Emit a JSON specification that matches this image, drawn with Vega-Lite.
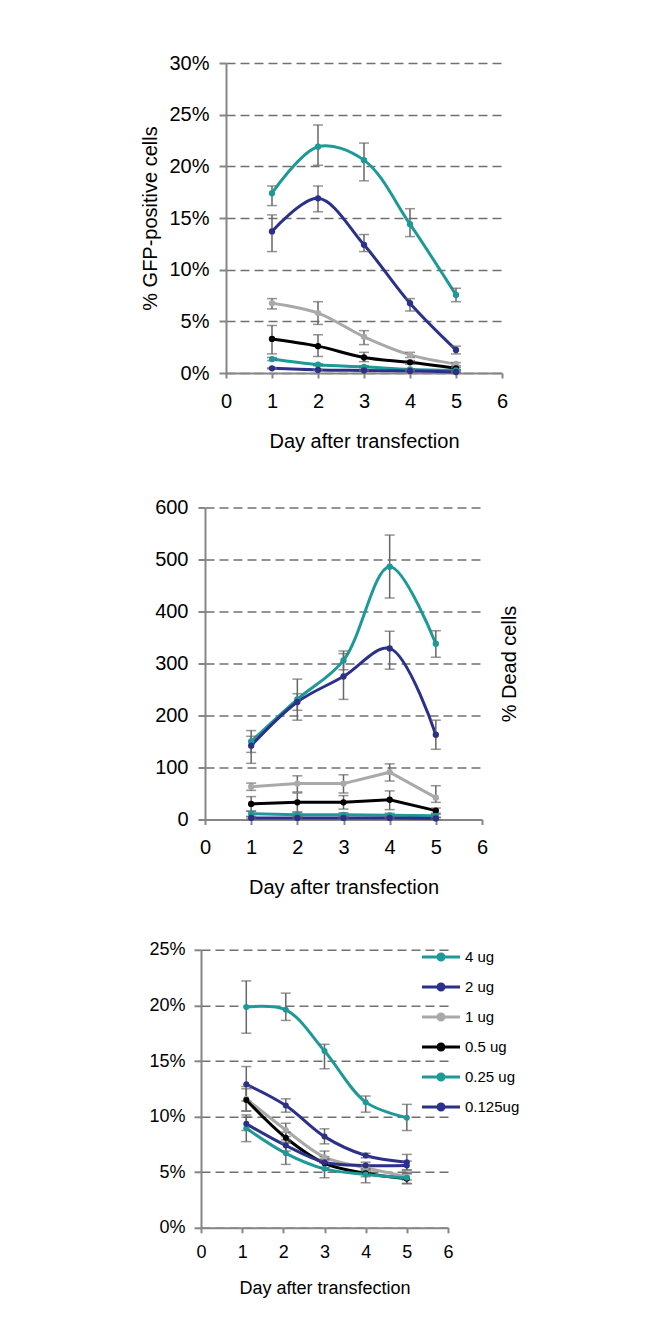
{
  "$schema": "https://vega.github.io/schema/vega-lite/v6.json",
  "background": "white",
  "padding": {"left": 140, "top": 53, "right": 0, "bottom": 0},
  "autosize": {"type": "pad"},
  "datasets": {
    "gfp": [
      {"dose": "4 ug", "day": 1, "v": 17.4, "lo": 16.2, "hi": 18.1},
      {"dose": "4 ug", "day": 2, "v": 21.9, "lo": 20.1, "hi": 24.0},
      {"dose": "4 ug", "day": 3, "v": 20.6, "lo": 18.6, "hi": 22.25},
      {"dose": "4 ug", "day": 4, "v": 14.4, "lo": 13.2, "hi": 15.9},
      {"dose": "4 ug", "day": 5, "v": 7.56, "lo": 6.9, "hi": 8.2},
      {"dose": "2 ug", "day": 1, "v": 13.7, "lo": 11.75, "hi": 15.3},
      {"dose": "2 ug", "day": 2, "v": 16.9, "lo": 15.6, "hi": 18.1},
      {"dose": "2 ug", "day": 3, "v": 12.4, "lo": 11.75, "hi": 13.4},
      {"dose": "2 ug", "day": 4, "v": 6.75, "lo": 6.0, "hi": 7.2},
      {"dose": "2 ug", "day": 5, "v": 2.23, "lo": 1.85, "hi": 2.6},
      {"dose": "1 ug", "day": 1, "v": 6.75, "lo": 6.2, "hi": 7.2},
      {"dose": "1 ug", "day": 2, "v": 5.8, "lo": 4.7, "hi": 6.9},
      {"dose": "1 ug", "day": 3, "v": 3.5, "lo": 2.75, "hi": 4.1},
      {"dose": "1 ug", "day": 4, "v": 1.75, "lo": 1.5, "hi": 2.0},
      {"dose": "1 ug", "day": 5, "v": 0.87, "lo": 0.7, "hi": 1.0},
      {"dose": "0.5 ug", "day": 1, "v": 3.3, "lo": 1.85, "hi": 4.6},
      {"dose": "0.5 ug", "day": 2, "v": 2.6, "lo": 1.6, "hi": 3.7},
      {"dose": "0.5 ug", "day": 3, "v": 1.5, "lo": 1.1, "hi": 2.0},
      {"dose": "0.5 ug", "day": 4, "v": 1.03, "lo": 0.85, "hi": 1.2},
      {"dose": "0.5 ug", "day": 5, "v": 0.45, "lo": 0.35, "hi": 0.55},
      {"dose": "0.25 ug", "day": 1, "v": 1.35, "lo": 1.2, "hi": 1.5},
      {"dose": "0.25 ug", "day": 2, "v": 0.8, "lo": 0.7, "hi": 0.9},
      {"dose": "0.25 ug", "day": 3, "v": 0.6, "lo": 0.5, "hi": 0.7},
      {"dose": "0.25 ug", "day": 4, "v": 0.35, "lo": 0.3, "hi": 0.4},
      {"dose": "0.25 ug", "day": 5, "v": 0.25, "lo": 0.2, "hi": 0.3},
      {"dose": "0.125ug", "day": 1, "v": 0.45, "lo": 0.4, "hi": 0.5},
      {"dose": "0.125ug", "day": 2, "v": 0.3, "lo": 0.25, "hi": 0.35},
      {"dose": "0.125ug", "day": 3, "v": 0.25, "lo": 0.2, "hi": 0.3},
      {"dose": "0.125ug", "day": 4, "v": 0.2, "lo": 0.15, "hi": 0.25},
      {"dose": "0.125ug", "day": 5, "v": 0.1, "lo": 0.05, "hi": 0.15}
    ],
    "dead": [
      {"dose": "4 ug", "day": 1, "v": 150, "lo": 129, "hi": 171},
      {"dose": "4 ug", "day": 2, "v": 231, "lo": 191, "hi": 270},
      {"dose": "4 ug", "day": 3, "v": 306, "lo": 288, "hi": 324},
      {"dose": "4 ug", "day": 4, "v": 486, "lo": 426, "hi": 547},
      {"dose": "4 ug", "day": 5, "v": 338, "lo": 312, "hi": 363},
      {"dose": "2 ug", "day": 1, "v": 142, "lo": 108, "hi": 160},
      {"dose": "2 ug", "day": 2, "v": 226, "lo": 210, "hi": 242},
      {"dose": "2 ug", "day": 3, "v": 275, "lo": 231, "hi": 319},
      {"dose": "2 ug", "day": 4, "v": 329, "lo": 289, "hi": 362},
      {"dose": "2 ug", "day": 5, "v": 163, "lo": 135, "hi": 191},
      {"dose": "1 ug", "day": 1, "v": 63, "lo": 56, "hi": 70},
      {"dose": "1 ug", "day": 2, "v": 69, "lo": 53, "hi": 84},
      {"dose": "1 ug", "day": 3, "v": 69, "lo": 51, "hi": 86},
      {"dose": "1 ug", "day": 4, "v": 91, "lo": 74, "hi": 107},
      {"dose": "1 ug", "day": 5, "v": 42, "lo": 33, "hi": 65},
      {"dose": "0.5 ug", "day": 1, "v": 30, "lo": 16, "hi": 44},
      {"dose": "0.5 ug", "day": 2, "v": 33, "lo": 15, "hi": 51},
      {"dose": "0.5 ug", "day": 3, "v": 33, "lo": 20, "hi": 46},
      {"dose": "0.5 ug", "day": 4, "v": 38, "lo": 19, "hi": 55},
      {"dose": "0.5 ug", "day": 5, "v": 17, "lo": 12, "hi": 22},
      {"dose": "0.25 ug", "day": 1, "v": 11, "lo": 6, "hi": 16},
      {"dose": "0.25 ug", "day": 2, "v": 9, "lo": 5, "hi": 13},
      {"dose": "0.25 ug", "day": 3, "v": 9, "lo": 5, "hi": 13},
      {"dose": "0.25 ug", "day": 4, "v": 8, "lo": 4, "hi": 12},
      {"dose": "0.25 ug", "day": 5, "v": 7, "lo": 4, "hi": 10},
      {"dose": "0.125ug", "day": 1, "v": 3, "lo": 1, "hi": 5},
      {"dose": "0.125ug", "day": 2, "v": 3, "lo": 1, "hi": 5},
      {"dose": "0.125ug", "day": 3, "v": 3, "lo": 1, "hi": 5},
      {"dose": "0.125ug", "day": 4, "v": 3, "lo": 1, "hi": 5},
      {"dose": "0.125ug", "day": 5, "v": 2, "lo": 0, "hi": 4}
    ],
    "third": [
      {"dose": "4 ug", "day": 1.1, "v": 19.85, "lo": 17.5, "hi": 22.2},
      {"dose": "4 ug", "day": 2.06, "v": 19.6, "lo": 18.65, "hi": 21.1},
      {"dose": "4 ug", "day": 3, "v": 15.9, "lo": 14.3, "hi": 16.5},
      {"dose": "4 ug", "day": 4, "v": 11.3, "lo": 10.4, "hi": 11.85},
      {"dose": "4 ug", "day": 5, "v": 9.9, "lo": 8.75, "hi": 11.1},
      {"dose": "2 ug", "day": 1.1, "v": 12.9, "lo": 11.4, "hi": 14.5},
      {"dose": "2 ug", "day": 2.06, "v": 11.0, "lo": 10.4, "hi": 11.6},
      {"dose": "2 ug", "day": 3, "v": 8.2, "lo": 7.55, "hi": 8.9},
      {"dose": "2 ug", "day": 4, "v": 6.5, "lo": 6.3, "hi": 6.7},
      {"dose": "2 ug", "day": 5, "v": 5.9, "lo": 5.2, "hi": 6.6},
      {"dose": "1 ug", "day": 1.1, "v": 11.6, "lo": 10.5, "hi": 12.7},
      {"dose": "1 ug", "day": 2.06, "v": 8.8, "lo": 8.2, "hi": 9.4},
      {"dose": "1 ug", "day": 3, "v": 6.35, "lo": 5.8, "hi": 6.9},
      {"dose": "1 ug", "day": 4, "v": 5.4, "lo": 5.1, "hi": 5.7},
      {"dose": "1 ug", "day": 5, "v": 4.6, "lo": 4.3, "hi": 4.9},
      {"dose": "0.5 ug", "day": 1.1, "v": 11.5, "lo": 10.5, "hi": 12.5},
      {"dose": "0.5 ug", "day": 2.06, "v": 8.1, "lo": 7.6, "hi": 8.6},
      {"dose": "0.5 ug", "day": 3, "v": 5.8, "lo": 5.4, "hi": 6.2},
      {"dose": "0.5 ug", "day": 4, "v": 4.9, "lo": 4.6, "hi": 5.2},
      {"dose": "0.5 ug", "day": 5, "v": 4.4, "lo": 3.95, "hi": 4.85},
      {"dose": "0.25 ug", "day": 1.1, "v": 8.95, "lo": 7.75, "hi": 10.15},
      {"dose": "0.25 ug", "day": 2.06, "v": 6.7, "lo": 5.7, "hi": 7.7},
      {"dose": "0.25 ug", "day": 3, "v": 5.3, "lo": 4.5, "hi": 6.1},
      {"dose": "0.25 ug", "day": 4, "v": 4.8, "lo": 4.05, "hi": 5.55},
      {"dose": "0.25 ug", "day": 5, "v": 4.5, "lo": 4.0, "hi": 5.0},
      {"dose": "0.125ug", "day": 1.1, "v": 9.35, "lo": 8.75, "hi": 9.95},
      {"dose": "0.125ug", "day": 2.06, "v": 7.4, "lo": 6.9, "hi": 7.9},
      {"dose": "0.125ug", "day": 3, "v": 5.9, "lo": 5.4, "hi": 6.4},
      {"dose": "0.125ug", "day": 4, "v": 5.6, "lo": 5.3, "hi": 5.9},
      {"dose": "0.125ug", "day": 5, "v": 5.6, "lo": 5.2, "hi": 6.0}
    ]
  },
  "columns": 1,
  "spacing": 46.5,
  "center": true,
  "resolve": {"scale": {"color": "independent", "fill": "independent", "stroke": "independent"}, "legend": {"color": "independent", "fill": "independent", "stroke": "independent"}},
  "concat": [
    {
      "width": 276,
      "height": 310,
      "data": {"name": "gfp"},
      "encoding": {
        "x": {"field": "day", "type": "quantitative", "scale": {"domain": [0, 6], "nice": false},
          "axis": {"title": "Day after transfection", "values": [0, 1, 2, 3, 4, 5, 6], "grid": false, "tickSize": 5, "labelPadding": 13, "titlePadding": 20, "labelFontSize": 20, "titleFontSize": 20, "labelFlush": false}}
      },
      "resolve": {"axis": {"y": "independent"}},
      "layer": [
        {
          "layer": [
            {"mark": {"type": "line", "interpolate": "catmull-rom", "strokeWidth": 3},
              "encoding": {
                "y": {"field": "v", "type": "quantitative", "scale": {"domain": [0, 30], "nice": false},
                  "axis": {"orient": "left", "title": "% GFP-positive cells", "values": [0, 5, 10, 15, 20, 25, 30], "labelExpr": "datum.value + '%'", "grid": true, "tickSize": 7, "labelPadding": 10, "titlePadding": 8, "labelFontSize": 20, "titleFontSize": 20}},
                "color": {"field": "dose", "type": "nominal", "scale": {"domain": ["4 ug", "2 ug", "1 ug", "0.5 ug", "0.25 ug", "0.125ug"], "range": ["#1d9a98", "#2b3189", "#a9a9a9", "#000000", "#1d9a98", "#2b3189"]}, "legend": null}
              }},
            {"mark": {"type": "rule", "color": "#666666", "strokeWidth": 1.5},
              "encoding": {"y": {"field": "lo", "type": "quantitative", "scale": {"domain": [0, 30], "nice": false}}, "y2": {"field": "hi"}}},
            {"mark": {"type": "tick", "orient": "horizontal", "size": 10, "thickness": 1.5, "color": "#666666"},
              "encoding": {"y": {"field": "lo", "type": "quantitative", "scale": {"domain": [0, 30], "nice": false}}}},
            {"mark": {"type": "tick", "orient": "horizontal", "size": 10, "thickness": 1.5, "color": "#666666"},
              "encoding": {"y": {"field": "hi", "type": "quantitative", "scale": {"domain": [0, 30], "nice": false}}}},
            {"mark": {"type": "point", "filled": true, "size": 40, "opacity": 1},
              "encoding": {
                "y": {"field": "v", "type": "quantitative", "scale": {"domain": [0, 30], "nice": false}},
                "color": {"field": "dose", "type": "nominal", "scale": {"domain": ["4 ug", "2 ug", "1 ug", "0.5 ug", "0.25 ug", "0.125ug"], "range": ["#1d9a98", "#2b3189", "#a9a9a9", "#000000", "#1d9a98", "#2b3189"]}, "legend": null}
              }}
          ]
        },
        {"mark": {"type": "point", "opacity": 0},
          "encoding": {
            "y": {"field": "v", "type": "quantitative", "scale": {"domain": [0, 30], "nice": false},
              "axis": {"orient": "right", "title": null, "labels": false, "domain": false, "grid": false, "ticks": true, "tickSize": 14, "tickColor": "transparent", "values": [0]}}
          }}
      ]
    },
    {
      "columns": 1,
      "spacing": 43.3,
      "center": true,
      "resolve": {"scale": {"color": "independent", "fill": "independent", "stroke": "independent"}, "legend": {"color": "independent", "fill": "independent", "stroke": "independent"}},
      "concat": [
        {
          "width": 277,
          "height": 312,
          "data": {"name": "dead"},
          "encoding": {
            "x": {"field": "day", "type": "quantitative", "scale": {"domain": [0, 6], "nice": false},
              "axis": {"title": "Day after transfection", "values": [0, 1, 2, 3, 4, 5, 6], "grid": false, "tickSize": 5, "labelPadding": 13, "titlePadding": 20, "labelFontSize": 20, "titleFontSize": 20, "labelFlush": false}}
          },
          "resolve": {"axis": {"y": "independent"}},
          "layer": [
            {
              "layer": [
                {"transform": [{"filter": "datum.dose === '4 ug' || datum.dose === '2 ug'"}],
                  "mark": {"type": "line", "interpolate": "catmull-rom", "strokeWidth": 3},
                  "encoding": {
                    "y": {"field": "v", "type": "quantitative", "scale": {"domain": [0, 600], "nice": false},
                      "axis": {"orient": "left", "title": null, "values": [0, 100, 200, 300, 400, 500, 600], "grid": true, "tickSize": 7, "labelPadding": 10, "labelFontSize": 20}},
                    "color": {"field": "dose", "type": "nominal", "scale": {"domain": ["4 ug", "2 ug", "1 ug", "0.5 ug", "0.25 ug", "0.125ug"], "range": ["#1d9a98", "#2b3189", "#a9a9a9", "#000000", "#1d9a98", "#2b3189"]}, "legend": null}
                  }},
                {"transform": [{"filter": "datum.dose !== '4 ug' && datum.dose !== '2 ug'"}],
                  "mark": {"type": "line", "strokeWidth": 3},
                  "encoding": {
                    "y": {"field": "v", "type": "quantitative", "scale": {"domain": [0, 600], "nice": false}},
                    "color": {"field": "dose", "type": "nominal", "scale": {"domain": ["4 ug", "2 ug", "1 ug", "0.5 ug", "0.25 ug", "0.125ug"], "range": ["#1d9a98", "#2b3189", "#a9a9a9", "#000000", "#1d9a98", "#2b3189"]}, "legend": null}
                  }},
                {"mark": {"type": "rule", "color": "#666666", "strokeWidth": 1.5},
                  "encoding": {"y": {"field": "lo", "type": "quantitative", "scale": {"domain": [0, 600], "nice": false}}, "y2": {"field": "hi"}}},
                {"mark": {"type": "tick", "orient": "horizontal", "size": 10, "thickness": 1.5, "color": "#666666"},
                  "encoding": {"y": {"field": "lo", "type": "quantitative", "scale": {"domain": [0, 600], "nice": false}}}},
                {"mark": {"type": "tick", "orient": "horizontal", "size": 10, "thickness": 1.5, "color": "#666666"},
                  "encoding": {"y": {"field": "hi", "type": "quantitative", "scale": {"domain": [0, 600], "nice": false}}}},
                {"mark": {"type": "point", "filled": true, "size": 40, "opacity": 1},
                  "encoding": {
                    "y": {"field": "v", "type": "quantitative", "scale": {"domain": [0, 600], "nice": false}},
                    "color": {"field": "dose", "type": "nominal", "scale": {"domain": ["4 ug", "2 ug", "1 ug", "0.5 ug", "0.25 ug", "0.125ug"], "range": ["#1d9a98", "#2b3189", "#a9a9a9", "#000000", "#1d9a98", "#2b3189"]}, "legend": null}
                  }}
              ]
            },
            {"mark": {"type": "point", "opacity": 0},
              "encoding": {
                "y": {"field": "v", "type": "quantitative", "scale": {"domain": [0, 600], "nice": false},
                  "axis": {"orient": "right", "title": "% Dead cells", "labels": false, "ticks": false, "domain": false, "grid": false, "titleAngle": 270, "titleBaseline": "top", "titlePadding": 17, "titleFontSize": 20}}
              }},
            {"mark": {"type": "point", "opacity": 0},
              "encoding": {
                "y": {"field": "v", "type": "quantitative", "scale": {"domain": [0, 600], "nice": false},
                  "axis": {"orient": "right", "title": null, "labels": false, "domain": false, "grid": false, "ticks": true, "tickSize": 55, "tickColor": "transparent", "values": [0]}}
              }}
          ]
        },
        {
          "width": 247,
          "height": 278,
          "data": {"name": "third"},
          "encoding": {
            "x": {"field": "day", "type": "quantitative", "scale": {"domain": [0, 6], "nice": false},
              "axis": {"title": "Day after transfection", "values": [0, 1, 2, 3, 4, 5, 6], "grid": false, "tickSize": 5, "labelPadding": 11, "titlePadding": 17.7, "labelFontSize": 18, "titleFontSize": 18, "labelFlush": false}}
          },
          "resolve": {"axis": {"y": "independent"}},
          "layer": [
            {
              "layer": [
                {"mark": {"type": "line", "interpolate": "catmull-rom", "strokeWidth": 3},
                  "encoding": {
                    "y": {"field": "v", "type": "quantitative", "scale": {"domain": [0, 25], "nice": false},
                      "axis": {"orient": "left", "title": null, "values": [0, 5, 10, 15, 20, 25], "labelExpr": "datum.value + '%'", "grid": true, "tickSize": 7, "labelPadding": 9, "labelFontSize": 18}},
                    "stroke": {"field": "dose", "type": "nominal", "scale": {"domain": ["4 ug", "2 ug", "1 ug", "0.5 ug", "0.25 ug", "0.125ug"], "range": ["#1d9a98", "#2b3189", "#a9a9a9", "#000000", "#1d9a98", "#2b3189"]},
                      "legend": {"orient": "none", "legendX": 228.5, "legendY": -4.3, "title": null, "padding": 0, "symbolType": "M-1.9,0H1.9M-0.3,0A0.3,0.3 0 1 1 0.3,0A0.3,0.3 0 1 1 -0.3,0Z", "symbolSize": 400, "symbolStrokeWidth": 3, "labelFontSize": 15, "labelOffset": 12.5, "rowPadding": 9, "labelColor": "#000000"}}
                  }},
                {"mark": {"type": "rule", "color": "#666666", "strokeWidth": 1.5},
                  "encoding": {"y": {"field": "lo", "type": "quantitative", "scale": {"domain": [0, 25], "nice": false}}, "y2": {"field": "hi"}}},
                {"mark": {"type": "tick", "orient": "horizontal", "size": 10, "thickness": 1.5, "color": "#666666"},
                  "encoding": {"y": {"field": "lo", "type": "quantitative", "scale": {"domain": [0, 25], "nice": false}}}},
                {"mark": {"type": "tick", "orient": "horizontal", "size": 10, "thickness": 1.5, "color": "#666666"},
                  "encoding": {"y": {"field": "hi", "type": "quantitative", "scale": {"domain": [0, 25], "nice": false}}}},
                {"mark": {"type": "point", "filled": true, "size": 36, "opacity": 1},
                  "encoding": {
                    "y": {"field": "v", "type": "quantitative", "scale": {"domain": [0, 25], "nice": false}},
                    "fill": {"field": "dose", "type": "nominal", "scale": {"domain": ["4 ug", "2 ug", "1 ug", "0.5 ug", "0.25 ug", "0.125ug"], "range": ["#1d9a98", "#2b3189", "#a9a9a9", "#000000", "#1d9a98", "#2b3189"]},
                      "legend": {"orient": "none", "legendX": 228.5, "legendY": -4.3, "title": null, "padding": 0, "symbolType": "M-1.9,0H1.9M-0.3,0A0.3,0.3 0 1 1 0.3,0A0.3,0.3 0 1 1 -0.3,0Z", "symbolSize": 400, "symbolStrokeWidth": 3, "labelFontSize": 15, "labelOffset": 12.5, "rowPadding": 9, "labelColor": "#000000"}}
                  }}
              ]
            },
            {"mark": {"type": "point", "opacity": 0},
              "encoding": {
                "y": {"field": "v", "type": "quantitative", "scale": {"domain": [0, 25], "nice": false},
                  "axis": {"orient": "right", "title": null, "labels": false, "domain": false, "grid": false, "ticks": true, "tickSize": 93, "tickColor": "transparent", "values": [0]}}
              }}
          ]
        }
      ]
    }
  ],
  "config": {
    "font": "Liberation Sans",
    "view": {"stroke": null},
    "axis": {"domainColor": "#868686", "domainWidth": 2, "tickColor": "#868686", "tickWidth": 2, "gridColor": "#707070", "gridDash": [9, 5], "gridWidth": 1.5, "labelColor": "#000000", "titleColor": "#000000", "titleFontWeight": "normal", "labelFont": "Liberation Sans", "titleFont": "Liberation Sans"},
    "legend": {"labelFont": "Liberation Sans"}
  }
}
